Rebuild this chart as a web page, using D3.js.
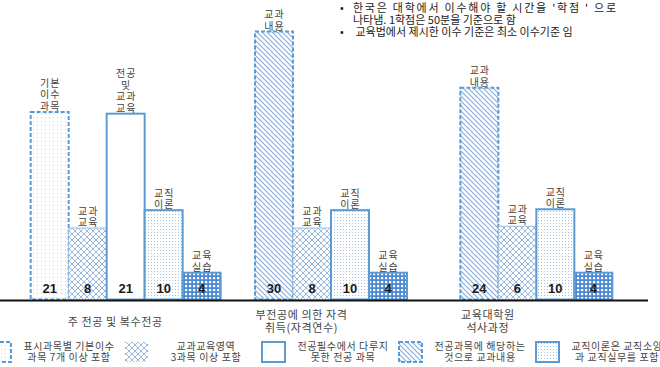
<!DOCTYPE html>
<html>
<head>
<meta charset="utf-8">
<script src="https://cdn.jsdelivr.net/npm/d3@7"></script>
<style>
  body { margin: 0; background: #fff; }
  svg { display: block; }
  text { font-family: "Noto Sans CJK KR", "Liberation Sans", sans-serif; }
</style>
</head>
<body>
<script>
// groups along the base line
var groupLabels = [["주 전공 및 복수전공"], ["부전공에 의한 자격", "취득(자격연수)"], ["교육대학원", "석사과정"]];

// one entry per bar
var barGroup  = [0, 0, 0, 0, 0, 1, 1, 1, 1, 2, 2, 2, 2];
var barKind   = ["basic", "subjEdu", "majorOnly", "teach", "practice",
                 "content", "subjEdu", "teach", "practice",
                 "content", "subjEdu", "teach", "practice"];
// heights as drawn in the picture (credit units)
var barHeight = [21, 8, 20.8, 10, 3, 30, 8, 10, 3, 23.7, 8.2, 10.1, 3];
// credits printed inside the bars
var barCredit = ["21", "8", "21", "10", "4", "30", "8", "10", "4", "24", "6", "10", "4"];
var barTitle  = [["기본", "이수", "과목"], ["교과", "교육"], ["전공", "및", "교과", "교육"], ["교직", "이론"], ["교육", "실습"],
                 ["교과", "내용"], ["교과", "교육"], ["교직", "이론"], ["교육", "실습"],
                 ["교과", "내용"], ["교과", "교육"], ["교직", "이론"], ["교육", "실습"]];

var legendKind = ["basic", "subjEdu", "majorOnly", "content", "teach"];
var legendText = [["표시과목별 기본이수", "과목 7개 이상 포함"],
                  ["교과교육영역", "3과목 이상 포함"],
                  ["전공필수에서 다루지", "못한 전공 과목"],
                  ["전공과목에 해당하는", "것으로 교과내용"],
                  ["교직이론은 교직소양", "과 교직실무를 포함"]];

var notes = [["•", "한국은 대학에서 이수해야 할 시간을 '학점 ' 으로"],
             ["", "나타냄. 1학점은 50분을 기준으로 함"],
             ["•", " 교육법에서 제시한 이수 기준은 최소 이수기준 임"]];

var w = 660, h = 367;
var blue = "#5b9bd5";

var svg = d3.select("body").append("svg")
    .attr("width", w)
    .attr("height", h);

//==== patterns
var defs = svg.append("defs");

var p = defs.append("pattern").attr("id", "p-basic")
    .attr("width", 4).attr("height", 4).attr("patternUnits", "userSpaceOnUse");
p.append("rect").attr("width", 4).attr("height", 4).attr("fill", "#fff");
p.append("rect").attr("x", 1).attr("y", 1).attr("width", 1).attr("height", 1).attr("fill", "#c4d2e3");

p = defs.append("pattern").attr("id", "p-subjEdu")
    .attr("width", 6).attr("height", 6).attr("patternUnits", "userSpaceOnUse");
p.append("rect").attr("width", 6).attr("height", 6).attr("fill", "#fff");
p.append("path").attr("d", "M0,0L6,6M6,0L0,6M-1,5L1,7M5,-1L7,1M-1,1L1,-1M5,7L7,5")
    .attr("stroke", "#8fb2dd").attr("stroke-width", 0.9);

p = defs.append("pattern").attr("id", "p-content")
    .attr("width", 5).attr("height", 5).attr("patternUnits", "userSpaceOnUse");
p.append("rect").attr("width", 5).attr("height", 5).attr("fill", "#fff");
p.append("path").attr("d", "M0,0L5,5M-1,4L1,6M4,-1L6,1")
    .attr("stroke", "#86abdc").attr("stroke-width", 1.1);

p = defs.append("pattern").attr("id", "p-teach")
    .attr("width", 3).attr("height", 3).attr("patternUnits", "userSpaceOnUse");
p.append("rect").attr("width", 3).attr("height", 3).attr("fill", "#fff");
p.append("rect").attr("x", 1).attr("y", 1).attr("width", 1).attr("height", 1).attr("fill", "#a9c1e0");

p = defs.append("pattern").attr("id", "p-practice")
    .attr("width", 4).attr("height", 4).attr("patternUnits", "userSpaceOnUse");
p.append("rect").attr("width", 4).attr("height", 4).attr("fill", "#4f8ad0");
p.append("rect").attr("x", 1).attr("y", 1).attr("width", 2.2).attr("height", 2.2).attr("fill", "#fff");

var kindStyle = {
    basic:     {fill: "url(#p-basic)",    stroke: blue,      width: 2,   dash: "4,2"},
    subjEdu:   {fill: "url(#p-subjEdu)",  stroke: "#9cbde4", width: 1,   dash: null},
    majorOnly: {fill: "#fff",             stroke: blue,      width: 2,   dash: null},
    content:   {fill: "url(#p-content)",  stroke: blue,      width: 2,   dash: "4,2"},
    teach:     {fill: "url(#p-teach)",    stroke: blue,      width: 2,   dash: null},
    practice:  {fill: "url(#p-practice)", stroke: blue,      width: 2,   dash: null}
};

//==== scales
var baseY = 299.5;
var y = d3.scaleLinear().domain([0, 30]).range([baseY, 31.5]);
var xGroup = d3.scaleBand().domain(d3.range(groupLabels.length)).range([23, 639]);
var xGroupLabel = d3.scaleBand().domain(d3.range(groupLabels.length)).range([22, 581]);
var barW = 38;

var data = barHeight.map(function(v, i) {
    return {value: v, group: barGroup[i], kind: barKind[i], credit: barCredit[i], title: barTitle[i]};
});
// position of each bar inside its group
var counts = {};
data.forEach(function(d) {
    d.k = counts[d.group] || 0;
    counts[d.group] = d.k + 1;
});
data.forEach(function(d) {
    var n = counts[d.group];
    var inner = d3.scaleBand().domain(d3.range(n)).range([-n * barW / 2, n * barW / 2]);
    d.x = xGroup(d.group) + xGroup.bandwidth() / 2 + inner(d.k);
    d.w = inner.bandwidth();
});

//==== bars
var g = svg.selectAll("g.bar")
    .data(data)
    .enter()
    .append("g")
    .attr("class", "bar");

g.append("rect")
    .attr("x", function(d) { return d.x; })
    .attr("y", function(d) { return y(d.value); })
    .attr("width", function(d) { return d.w; })
    .attr("height", function(d) { return baseY - y(d.value); })
    .attr("fill", function(d) { return kindStyle[d.kind].fill; })
    .attr("stroke", function(d) { return kindStyle[d.kind].stroke; })
    .attr("stroke-width", function(d) { return kindStyle[d.kind].width; })
    .attr("stroke-dasharray", function(d) { return kindStyle[d.kind].dash; });

g.append("text")
    .text(function(d) { return d.credit; })
    .attr("x", function(d) { return d.x + d.w / 2; })
    .attr("y", 293)
    .attr("text-anchor", "middle")
    .style("font-family", "'Liberation Sans', Arial, sans-serif")
    .style("font-weight", "bold")
    .style("font-size", "13px")
    .style("fill", "#1a1a1a");

// titles above bars
g.each(function(d) {
    var n = d.title.length;
    var t = d3.select(this).append("text")
        .attr("text-anchor", "middle")
        .style("font-size", "10px")
        .style("letter-spacing", "1px")
        .style("fill", "#444");
    d.title.forEach(function(line, j) {
        t.append("tspan")
            .attr("x", d.x + d.w / 2 + 0.5)
            .attr("y", y(d.value) - 2 - (n - 1 - j) * 11.5)
            .text(line);
    });
});

// base line
svg.append("line")
    .attr("x1", 0).attr("x2", 648)
    .attr("y1", 300.5).attr("y2", 300.5)
    .attr("stroke", "#111")
    .attr("stroke-width", 2);

// group labels
groupLabels.forEach(function(lines, i) {
    var t = svg.append("text")
        .attr("text-anchor", "middle")
        .style("font-size", "11px")
        .style("letter-spacing", "0.6px")
        .style("fill", "#444");
    var y0 = lines.length == 1 ? 326 : 319;
    lines.forEach(function(line, j) {
        t.append("tspan")
            .attr("x", xGroupLabel(i) + xGroupLabel.bandwidth() / 2)
            .attr("y", y0 + j * 13)
            .text(line);
    });
});

//==== legend
var legendStep = 137;
legendKind.forEach(function(kind, i) {
    var lx = -12 + i * legendStep;
    var s = kindStyle[kind];
    svg.append("rect")
        .attr("x", lx).attr("y", 342)
        .attr("width", 23).attr("height", 20)
        .attr("fill", s.fill)
        .attr("stroke", kind == "subjEdu" ? "none" : s.stroke)
        .attr("stroke-width", s.width)
        .attr("stroke-dasharray", s.dash);
    var t = svg.append("text")
        .attr("text-anchor", "middle")
        .style("font-size", "10px")
        .style("letter-spacing", "0.6px")
        .style("fill", "#444");
    legendText[i].forEach(function(line, j) {
        t.append("tspan")
            .attr("x", lx + 81)
            .attr("y", 349.5 + j * 11.5)
            .text(line);
    });
});

//==== notes top right
notes.forEach(function(n, i) {
    if (n[0]) {
        svg.append("text")
            .attr("x", 340).attr("y", 12 + i * 12)
            .style("font-size", "11px")
            .style("fill", "#222")
            .text(n[0]);
    }
    var t = svg.append("text")
        .attr("x", 353).attr("y", 12 + i * 12)
        .style("font-size", "11px")
        .style("fill", "#222")
        .style("white-space", "pre")
        .text(n[1]);
    if (i == 0) t.attr("textLength", 263).attr("lengthAdjust", "spacing");
});
</script>
</body>
</html>
